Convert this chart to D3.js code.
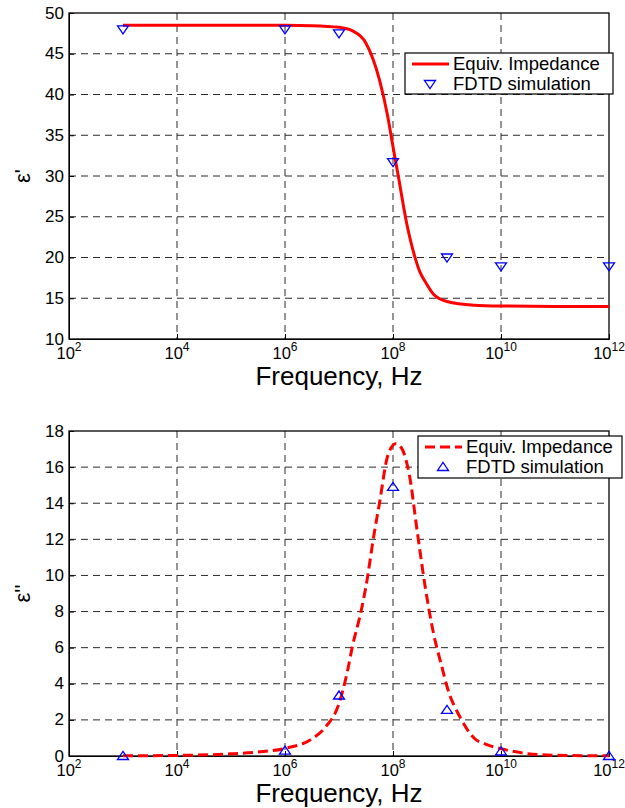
<!DOCTYPE html>
<html><head><meta charset="utf-8">
<script src="https://cdn.jsdelivr.net/npm/d3@7"></script>
<style>body{margin:0;background:#fff}svg{display:block}text{font-family:"Liberation Sans",Arial,sans-serif;fill:#000}</style>
</head><body>
<script>
// ---------- data ----------
const xTickExps = [2, 4, 6, 8, 10, 12];
const topYTicks = [10, 15, 20, 25, 30, 35, 40, 45, 50];
const botYTicks = [0, 2, 4, 6, 8, 10, 12, 14, 16, 18];

const curveFreqTop = [1e3, 1e4, 1e5, 1e6, 3.16e6, 1e7, 1.78e7, 3.16e7, 5.62e7, 7.94e7, 1e8, 1.26e8, 1.78e8, 2.51e8, 3.16e8, 3.98e8, 5.62e8, 1e9, 3.16e9, 1e10, 1e11, 1e12];
const curveEpsReal = [48.5, 48.5, 48.5, 48.5, 48.45, 48.25, 47.8, 46.3, 41.8, 37.4, 33.6, 29.9, 24.3, 20.2, 18.2, 17.0, 15.5, 14.6, 14.15, 14.05, 14.0, 14.0];

const curveFreqBot = [1e3, 1e4, 1e5, 3.16e5, 1e6, 3.16e6, 5.62e6, 1e7, 1.41e7, 1.78e7, 2.51e7, 3.16e7, 4.47e7, 5.62e7, 7.94e7, 1.12e8, 1.41e8, 2e8, 2.82e8, 3.98e8, 5.62e8, 7.94e8, 1e9, 1.78e9, 3.16e9, 5.62e9, 1e10, 3.16e10, 1e11, 1e12];
const curveEpsImag = [0.01, 0.03, 0.12, 0.22, 0.42, 0.95, 1.6, 2.9, 4.6, 6.1, 7.9, 9.4, 12.3, 14.0, 16.6, 17.3, 17.1, 15.6, 12.4, 9.3, 6.8, 5.0, 3.85, 2.1, 1.0, 0.62, 0.4, 0.13, 0.04, 0.01];

const simFreq = [1e3, 1e6, 1e7, 1e8, 1e9, 1e10, 1e12];
const simEpsReal = [48.0, 48.0, 47.5, 31.7, 20.0, 18.9, 18.9];
const simEpsImag = [0.0, 0.3, 3.35, 14.9, 2.55, 0.25, 0.0];

const legendLabels = ["Equiv. Impedance", "FDTD simulation"];
const xLabel = "Frequency, Hz";
const yLabels = ["ε'", "ε''"];

// ---------- drawing ----------
const W = 625, H = 808;
const svg = d3.select("body").append("svg").attr("width", W).attr("height", H);

const panels = [
  {top: 13, bottom: 339, left: 69, right: 609, yDomain: [10, 50], yTicks: topYTicks,
   cf: curveFreqTop, cv: curveEpsReal, sv: simEpsReal, dash: null, tri: "down",
   ylabel: yLabels[0], legend: {x: 405, y: 53, w: 208, h: 41}},
  {top: 431, bottom: 756, left: 69, right: 609, yDomain: [0, 18], yTicks: botYTicks,
   cf: curveFreqBot, cv: curveEpsImag, sv: simEpsImag, dash: "10,5", tri: "up",
   ylabel: yLabels[1], legend: {x: 418, y: 436, w: 204, h: 42}}
];

function triPath(kind) {
  return kind === "down" ? "M-5.5,-3.5L5.5,-3.5L0,4.5Z" : "M-5.5,3.5L5.5,3.5L0,-4.5Z";
}

panels.forEach(p => {
  const x = d3.scaleLog().domain([1e2, 1e12]).range([p.left, p.right]);
  const y = d3.scaleLinear().domain(p.yDomain).range([p.bottom, p.top]);
  const g = svg.append("g");

  // grid
  const grid = g.append("g").attr("stroke", "#2a2a2a").attr("stroke-width", 1).attr("stroke-dasharray", "7,5");
  xTickExps.slice(1, -1).forEach(e => {
    grid.append("line").attr("x1", x(Math.pow(10, e))).attr("x2", x(Math.pow(10, e)))
      .attr("y1", p.top).attr("y2", p.bottom);
  });
  p.yTicks.slice(1, -1).forEach(v => {
    grid.append("line").attr("x1", p.left).attr("x2", p.right).attr("y1", y(v)).attr("y2", y(v));
  });

  // axes via d3 (ticks inward)
  const xAxis = d3.axisBottom(x).tickValues(xTickExps.map(e => Math.pow(10, e))).tickSize(-5).tickFormat("");
  const yAxis = d3.axisLeft(y).tickValues(p.yTicks).tickSize(-5).tickFormat("");
  g.append("g").attr("transform", `translate(0,${p.bottom})`).call(xAxis)
    .call(a => a.selectAll("path,line").attr("stroke", "#000"));
  g.append("g").attr("transform", `translate(${p.left},0)`).call(yAxis)
    .call(a => a.selectAll("path,line").attr("stroke", "#000"));
  g.append("rect").attr("x", p.left).attr("y", p.top).attr("width", p.right - p.left)
    .attr("height", p.bottom - p.top).attr("fill", "none").attr("stroke", "#000").attr("stroke-width", 1.3);

  // y tick labels
  p.yTicks.forEach(v => {
    g.append("text").attr("x", p.left - 5).attr("y", y(v) + 5.5).attr("text-anchor", "end")
      .attr("font-size", 17).text(v);
  });
  // x tick labels 10^n
  xTickExps.forEach(e => {
    const t = g.append("text").attr("x", x(Math.pow(10, e))).attr("y", p.bottom + 20)
      .attr("text-anchor", "middle").attr("font-size", 16.5);
    t.append("tspan").text("10");
    t.append("tspan").attr("dy", -8).attr("font-size", 12).text(e);
  });
  // axis labels
  g.append("text").attr("x", (p.left + p.right) / 2).attr("y", p.bottom + 46)
    .attr("text-anchor", "middle").attr("font-size", 26).text(xLabel);
  g.append("text").attr("transform", `translate(30,${(p.top + p.bottom) / 2}) rotate(-90)`)
    .attr("text-anchor", "middle").attr("font-size", 22).text(p.ylabel);

  // curve
  const line = d3.line().x(d => x(d[0])).y(d => y(d[1])).curve(d3.curveMonotoneX);
  const pts = p.cf.map((f, i) => [f, p.cv[i]]);
  g.append("path").datum(pts).attr("d", line).attr("fill", "none").attr("stroke", "#ff0000")
    .attr("stroke-width", 3).attr("stroke-dasharray", p.dash);

  // markers
  g.selectAll(".m").data(simFreq.map((f, i) => [f, p.sv[i]])).enter().append("path")
    .attr("d", triPath(p.tri)).attr("transform", d => `translate(${x(d[0])},${y(d[1])})`)
    .attr("fill", "none").attr("stroke", "#0000ff").attr("stroke-width", 1.3);

  // legend
  const L = p.legend;
  const lg = g.append("g");
  lg.append("rect").attr("x", L.x).attr("y", L.y).attr("width", L.w).attr("height", L.h)
    .attr("fill", "#fff").attr("stroke", "#000").attr("stroke-width", 1.2);
  const r1 = L.y + 11, r2 = L.y + 31;
  lg.append("line").attr("x1", L.x + 7).attr("x2", L.x + 44).attr("y1", r1).attr("y2", r1)
    .attr("stroke", "#ff0000").attr("stroke-width", 3).attr("stroke-dasharray", p.dash);
  lg.append("path").attr("d", triPath(p.tri)).attr("transform", `translate(${L.x + 25},${r2})`)
    .attr("fill", "none").attr("stroke", "#0000ff").attr("stroke-width", 1.3);
  lg.append("text").attr("x", L.x + 48).attr("y", r1 + 6).attr("font-size", 18.5).text(legendLabels[0]);
  lg.append("text").attr("x", L.x + 48).attr("y", r2 + 6).attr("font-size", 18.5).text(legendLabels[1]);
});
</script>
</body></html>
